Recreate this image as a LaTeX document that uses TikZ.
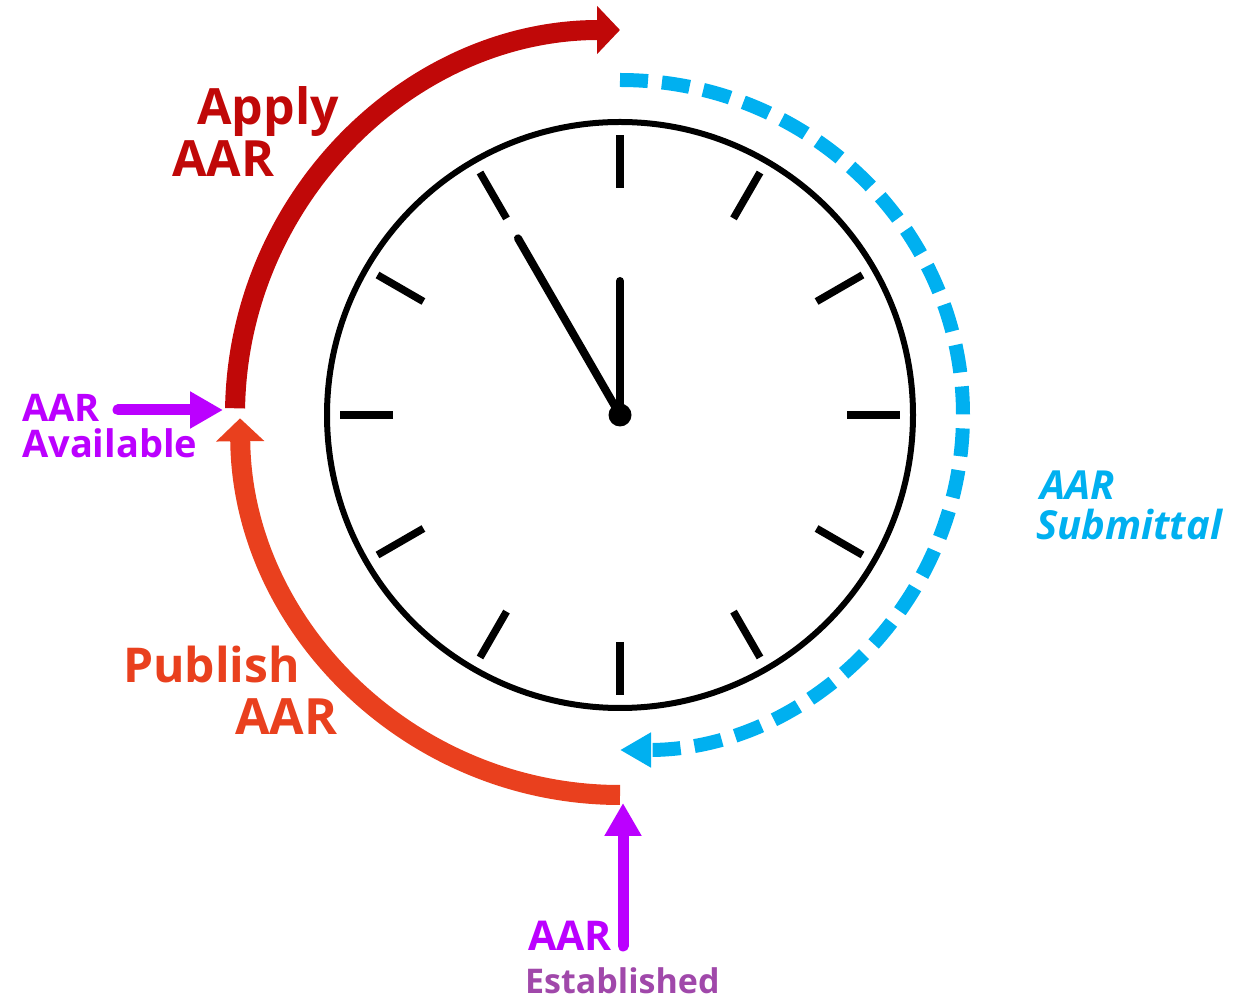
\documentclass[tikz,border=0pt]{standalone}
\usepackage{fontspec}
\setmainfont{Open Sans}
\usepackage{xcolor}
\usepackage{tikz}
\usetikzlibrary{arrows.meta,positioning,calc}

\definecolor{applyred}{RGB}{192,8,8}
\definecolor{pubred}{RGB}{233,64,30}
\definecolor{subblue}{RGB}{0,176,240}
\definecolor{aarpurple}{RGB}{187,0,255}
\definecolor{estpurple}{RGB}{160,72,170}
\newcommand{\tsz}[1]{\fontsize{#1}{#1}\selectfont\bfseries}

\begin{document}
\begin{tikzpicture}[x=1pt,y=1pt,
  lbl/.style={inner sep=0pt,anchor=base west},
  tick/.style={line width=7.5pt},
  hand/.style={line width=8pt,line cap=round},
  phase/.style={line width=20pt,-{Triangle[width=47pt,length=23pt]}},
  pointer/.style={aarpurple,line width=11pt,line cap=round,-{Triangle[width=35pt,length=33pt]}}]
  \useasboundingbox (0,0) rectangle (1235,1002);
  \coordinate (C) at (620,587);
  % clock face
  \draw[line width=6pt] (C) circle (293);
  \foreach \a in {0,30,...,330}{ \draw[tick] ($(C)+(\a:227)$)--($(C)+(\a:280)$); }
  \draw[hand] (C)--++(120:204);
  \draw[hand] (C)--++(90:134);
  \fill (C) circle (11.5);
  % phases round the clock
  \draw[phase,applyred] ($(C)+(179:385)$) arc[start angle=179,end angle=90,radius=385];
  \draw[phase,pubred] ($(C)+(270:380)$) arc[start angle=270,end angle=180.5,radius=380];
  \draw[subblue,line width=14pt,dash pattern=on 28pt off 14pt,-{Triangle[width=33pt,length=31pt]}]
    ($(C)+(90:335)$) arc[start angle=90,end angle=-90,x radius=343,y radius=335];
  % labels
  \node[lbl,applyred,font=\tsz{50}] (apply) at (197,877) {Apply};
  \node[lbl,applyred,font=\tsz{50}] (applyaar) at (172,825) {AAR};
  \node[lbl,pubred,font=\tsz{48}] (publish) at (123,319) {Publish};
  \node[lbl,pubred,font=\tsz{50}] (publishaar) at (235,267) {AAR};
  \node[lbl,subblue,font=\tsz{40}\itshape] (subaar) at (1040,502) {AAR};
  \node[lbl,subblue,font=\tsz{40}\itshape] (submittal) at (1036,462) {Submittal};
  \node[lbl,aarpurple,font=\tsz{38}] (availaar) at (22,580) {AAR};
  \node[lbl,aarpurple,font=\tsz{38}] (available) at (22,544) {Available};
  \node[lbl,aarpurple,font=\tsz{41}] (estaar) at (528,52) {AAR};
  \node[lbl,estpurple,font=\tsz{34}] (established) at (525,9) {Established};
  % milestones
  \coordinate (availtail) at (118,592);
  \coordinate (availtip) at (223,592);
  \coordinate (esttail) at (623,56);
  \coordinate (esttip) at (623,199);
  \draw[pointer] (availtail)--(availtip);
  \draw[pointer] (esttail)--(esttip);
\end{tikzpicture}
\end{document}
